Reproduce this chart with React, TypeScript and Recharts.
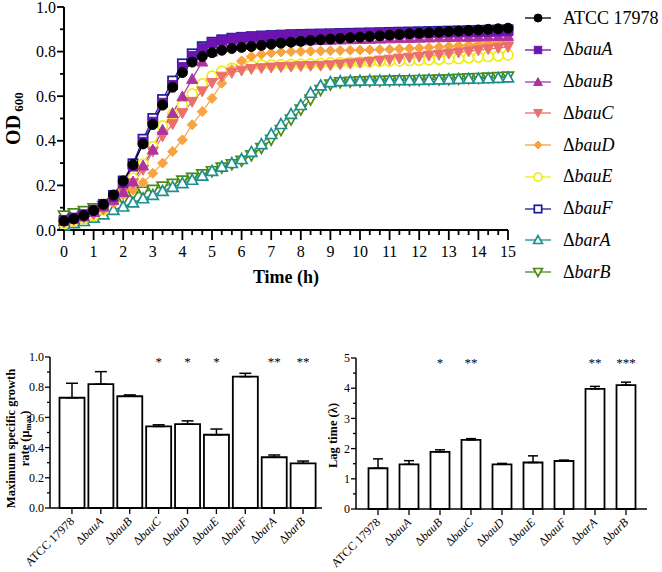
import {
  Bar,
  BarChart,
  ErrorBar,
  LabelList,
  Line,
  LineChart,
  XAxis,
  YAxis,
} from "recharts";

const SERIF = "'Liberation Serif', Tinos, 'Times New Roman', Times, 'DejaVu Serif', serif";

// sampling every 20 min
const TIME_H = [
  0, 0.33, 0.67, 1, 1.33, 1.67, 2, 2.33, 2.67, 3, 3.33, 3.67, 4, 4.33, 4.67, 5,
  5.33, 5.67, 6, 6.33, 6.67, 7, 7.33, 7.67, 8, 8.33, 8.67, 9, 9.33, 9.67, 10,
  10.33, 10.67, 11, 11.33, 11.67, 12, 12.33, 12.67, 13, 13.33, 13.67, 14, 14.33,
  14.67, 15,
];
const OD_TICKS = [0, 0.1, 0.2, 0.3, 0.4, 0.5, 0.6, 0.7, 0.8, 0.9, 1.0];

const ATCC = [
  0.04, 0.05, 0.065, 0.087, 0.115, 0.157,
  0.22, 0.293, 0.386, 0.473, 0.56, 0.64,
  0.706, 0.753, 0.778, 0.795, 0.806, 0.814,
  0.819, 0.823, 0.828, 0.833, 0.838, 0.842,
  0.846, 0.85, 0.853, 0.856, 0.859, 0.862,
  0.865, 0.868, 0.871, 0.874, 0.877, 0.88,
  0.882, 0.885, 0.887, 0.89, 0.892, 0.895,
  0.897, 0.9, 0.902, 0.905,
];
const BAU_A = [
  0.045, 0.055, 0.07, 0.09, 0.115, 0.15,
  0.21, 0.285, 0.395, 0.485, 0.57, 0.65,
  0.73, 0.78, 0.815, 0.837, 0.85, 0.858,
  0.863, 0.866, 0.869, 0.871, 0.873, 0.874,
  0.875, 0.876, 0.877, 0.878, 0.879, 0.88,
  0.881, 0.882, 0.882, 0.883, 0.884, 0.885,
  0.885, 0.886, 0.887, 0.887, 0.888, 0.889,
  0.889, 0.89, 0.891, 0.892,
];
const BAU_B = [
  0.04, 0.05, 0.06, 0.08, 0.105, 0.135,
  0.17, 0.217, 0.289, 0.36, 0.449, 0.524,
  0.599, 0.677, 0.755, 0.8, 0.82, 0.83,
  0.836, 0.84, 0.843, 0.845, 0.847, 0.849,
  0.85, 0.851, 0.852, 0.853, 0.854, 0.855,
  0.856, 0.857, 0.858, 0.859, 0.86, 0.861,
  0.862, 0.863, 0.864, 0.865, 0.866, 0.866,
  0.867, 0.868, 0.869, 0.87,
];
const BAU_C = [
  0.035, 0.045, 0.055, 0.07, 0.095, 0.13,
  0.172, 0.21, 0.27, 0.352, 0.42, 0.475,
  0.524, 0.575, 0.622, 0.66, 0.688, 0.705,
  0.715, 0.722, 0.726, 0.729, 0.731, 0.733,
  0.735, 0.736, 0.737, 0.739, 0.743, 0.747,
  0.751, 0.755, 0.76, 0.764, 0.769, 0.773,
  0.777, 0.782, 0.786, 0.791, 0.796, 0.801,
  0.806, 0.811, 0.816, 0.821,
];
const BAU_D = [
  0.035, 0.045, 0.055, 0.07, 0.09, 0.12,
  0.157, 0.18, 0.213, 0.254, 0.3, 0.352,
  0.404, 0.472, 0.531, 0.59, 0.658, 0.72,
  0.758, 0.778, 0.788, 0.794, 0.798, 0.8,
  0.801, 0.802, 0.803, 0.804, 0.805, 0.806,
  0.807, 0.808, 0.809, 0.81, 0.812, 0.814,
  0.816, 0.818, 0.821, 0.824, 0.827, 0.83,
  0.834, 0.838, 0.842, 0.846,
];
const BAU_E = [
  0.03, 0.04, 0.05, 0.065, 0.09, 0.13,
  0.19, 0.232, 0.296, 0.374, 0.467, 0.52,
  0.56, 0.61, 0.655, 0.69, 0.712, 0.726,
  0.734, 0.738, 0.74, 0.741, 0.742, 0.743,
  0.744, 0.745, 0.747, 0.749, 0.751, 0.752,
  0.753, 0.754, 0.756, 0.757, 0.758, 0.76,
  0.761, 0.763, 0.765, 0.767, 0.769, 0.772,
  0.775, 0.778, 0.781, 0.785,
];
const BAU_F = [
  0.04, 0.05, 0.065, 0.085, 0.115, 0.155,
  0.22, 0.297, 0.407, 0.5, 0.585, 0.668,
  0.745, 0.79, 0.822, 0.842, 0.853, 0.86,
  0.864, 0.867, 0.87, 0.872, 0.874, 0.876,
  0.877, 0.878, 0.879, 0.88, 0.881, 0.882,
  0.883, 0.884, 0.885, 0.886, 0.887, 0.888,
  0.889, 0.89, 0.891, 0.892, 0.893, 0.894,
  0.895, 0.896, 0.897, 0.898,
];
const BAR_A = [
  0.02, 0.03, 0.04, 0.055, 0.07, 0.09,
  0.105, 0.123, 0.142, 0.157, 0.175, 0.193,
  0.21, 0.225, 0.243, 0.265, 0.284, 0.3,
  0.318, 0.35, 0.385, 0.43, 0.475, 0.52,
  0.56, 0.615, 0.648, 0.663, 0.667, 0.668,
  0.669, 0.67, 0.67, 0.671, 0.672, 0.672,
  0.673, 0.674, 0.675, 0.676, 0.677, 0.678,
  0.679, 0.68, 0.682, 0.684,
];
const BAR_B = [
  0.065, 0.075, 0.085, 0.097, 0.108, 0.12,
  0.135, 0.16, 0.172, 0.18, 0.195, 0.207,
  0.222, 0.234, 0.25, 0.264, 0.28, 0.295,
  0.31, 0.335, 0.368, 0.405, 0.448, 0.495,
  0.54, 0.585, 0.628, 0.652, 0.662, 0.665,
  0.667, 0.668, 0.669, 0.67, 0.671, 0.672,
  0.673, 0.674, 0.675, 0.676, 0.678, 0.68,
  0.682, 0.684, 0.686, 0.688,
];

// bar panels
const STRAINS = [
  "ATCC 17978", "ΔbauA", "ΔbauB", "ΔbauC", "ΔbauD", "ΔbauE", "ΔbauF", "ΔbarA", "ΔbarB",
];
const MU_MAX = [0.73, 0.82, 0.74, 0.54, 0.555, 0.485, 0.87, 0.336, 0.296];
const MU_SD = [0.096, 0.083, 0.009, 0.011, 0.022, 0.038, 0.022, 0.015, 0.015];
const MU_SIG = ["", "", "", "*", "*", "*", "", "**", "**"];
const MU_TICKS = [0, 0.1, 0.2, 0.3, 0.4, 0.5, 0.6, 0.7, 0.8, 0.9, 1.0];

const LAG = [1.35, 1.48, 1.89, 2.29, 1.48, 1.54, 1.59, 3.98, 4.1];
const LAG_SD = [0.31, 0.12, 0.07, 0.04, 0.03, 0.22, 0.03, 0.08, 0.1];
const LAG_SIG = ["", "", "*", "**", "", "", "", "**", "***"];
const LAG_TICKS = [0, 0.5, 1, 1.5, 2, 2.5, 3, 3.5, 4, 4.5, 5];

type Shape = "circle" | "square" | "triUp" | "triDown" | "diamond";

interface Series {
  key: string;
  label: string;
  color: string;
  shape: Shape;
  filled: boolean;
  values: number[];
}

const SERIES: Series[] = [
  { key: "atcc", label: "ATCC 17978", color: "#000000", shape: "circle", filled: true, values: ATCC },
  { key: "bauA", label: "ΔbauA", color: "#6c14b0", shape: "square", filled: true, values: BAU_A },
  { key: "bauB", label: "ΔbauB", color: "#ad349f", shape: "triUp", filled: true, values: BAU_B },
  { key: "bauC", label: "ΔbauC", color: "#ec6f6c", shape: "triDown", filled: true, values: BAU_C },
  { key: "bauD", label: "ΔbauD", color: "#f8a341", shape: "diamond", filled: true, values: BAU_D },
  { key: "bauE", label: "ΔbauE", color: "#eeee10", shape: "circle", filled: false, values: BAU_E },
  { key: "bauF", label: "ΔbauF", color: "#1b1b98", shape: "square", filled: false, values: BAU_F },
  { key: "barA", label: "ΔbarA", color: "#1d8f8f", shape: "triUp", filled: false, values: BAR_A },
  { key: "barB", label: "ΔbarB", color: "#4b8a14", shape: "triDown", filled: false, values: BAR_B },
];

const growth = TIME_H.map((t, i) => {
  const row: Record<string, number> = { t };
  SERIES.forEach((s) => (row[s.key] = s.values[i]));
  return row;
});

const muData = STRAINS.map((strain, i) => ({
  strain,
  v: MU_MAX[i],
  err: [0, MU_SD[i]],
  sig: MU_SIG[i],
}));
const lagData = STRAINS.map((strain, i) => ({
  strain,
  v: LAG[i],
  err: [0, LAG_SD[i]],
  sig: LAG_SIG[i],
}));

function Marker({
  cx,
  cy,
  shape,
  color,
  filled,
  r,
}: {
  cx?: number;
  cy?: number;
  shape: Shape;
  color: string;
  filled: boolean;
  r: number;
}) {
  if (cx == null || cy == null) return null;
  const p = { fill: filled ? color : "#fff", stroke: color, strokeWidth: filled ? 1 : 1.7 };
  switch (shape) {
    case "circle":
      return <circle cx={cx} cy={cy} r={r} {...p} />;
    case "square": {
      const h = r * 0.92;
      return <rect x={cx - h} y={cy - h} width={h * 2} height={h * 2} {...p} />;
    }
    case "diamond":
      return (
        <polygon
          points={`${cx},${cy - r} ${cx + r},${cy} ${cx},${cy + r} ${cx - r},${cy}`}
          {...p}
        />
      );
    case "triUp": {
      const h = r * 1.1;
      return (
        <polygon
          points={`${cx},${cy - h} ${cx + h},${cy + h * 0.8} ${cx - h},${cy + h * 0.8}`}
          {...p}
        />
      );
    }
    default: {
      const h = r * 1.1;
      return (
        <polygon
          points={`${cx},${cy + h} ${cx + h},${cy - h * 0.8} ${cx - h},${cy - h * 0.8}`}
          {...p}
        />
      );
    }
  }
}

// Δ upright, gene name italic
const SvgStrain = ({ name }: { name: string }) =>
  name.startsWith("Δ") ? (
    <>
      <tspan>Δ</tspan>
      <tspan fontStyle="italic">{name.slice(1)}</tspan>
    </>
  ) : (
    <>{name}</>
  );

const HtmlStrain = ({ name }: { name: string }) =>
  name.startsWith("Δ") ? (
    <>
      Δ<i>{name.slice(1)}</i>
    </>
  ) : (
    <>{name}</>
  );

const odYTick = (p: any) => {
  const v = p.payload.value;
  const major = Math.round(v * 10) % 2 === 0;
  return (
    <g>
      <line x1={p.x - (major ? 7 : 4)} x2={p.x} y1={p.y} y2={p.y} stroke="#000" strokeWidth={1.8} />
      {major && (
        <text
          x={p.x - 8}
          y={p.y}
          dy="0.35em"
          textAnchor="end"
          fontSize={16}
          fontFamily={SERIF}
          fill="#000"
        >
          {v.toFixed(1)}
        </text>
      )}
    </g>
  );
};

const timeTick = (p: any) => {
  const v = p.payload.value;
  const major = Number.isInteger(v);
  return (
    <g>
      <line x1={p.x} x2={p.x} y1={p.y} y2={p.y + (major ? 10 : 5)} stroke="#000" strokeWidth={1.8} />
      {major && (
        <text x={p.x} y={p.y + 27} textAnchor="middle" fontSize={16} fontFamily={SERIF} fill="#000">
          {v}
        </text>
      )}
    </g>
  );
};

const barYTick = (isMajor: (v: number) => boolean, fmt: (v: number) => string) => (p: any) => {
  const v = p.payload.value;
  const major = isMajor(v);
  return (
    <g>
      <line x1={p.x - (major ? 5 : 3)} x2={p.x} y1={p.y} y2={p.y} stroke="#000" strokeWidth={1.3} />
      {major && (
        <text
          x={p.x - 6}
          y={p.y}
          dy="0.35em"
          textAnchor="end"
          fontSize={12}
          fontFamily={SERIF}
          fill="#000"
        >
          {fmt(v)}
        </text>
      )}
    </g>
  );
};

const strainTick = (p: any) => (
  <g>
    <line x1={p.x} x2={p.x} y1={p.y} y2={p.y + 6} stroke="#000" strokeWidth={1.3} />
    <text
      transform={`translate(${p.x + 3},${p.y + 14}) rotate(-45)`}
      textAnchor="end"
      fontSize={12}
      fontFamily={SERIF}
      fill="#000"
    >
      <SvgStrain name={p.payload.value} />
    </text>
  </g>
);

// significance stars sit at the top of the value axis, above each bar
const sigLabel = (values: number[], yMax: number) => (p: any) => {
  const vb = p.viewBox ?? p;
  if (!p.value || vb == null) return null;
  const base = vb.y + vb.height;
  const top = base - (yMax * vb.height) / values[p.index];
  return (
    <text
      x={vb.x + vb.width / 2}
      y={top + 9}
      textAnchor="middle"
      fontSize={13}
      fontFamily={SERIF}
      fill="#000"
      stroke="none"
    >
      {p.value}
    </text>
  );
};

export default function App() {
  return (
    <div
      style={{
        position: "absolute",
        left: 0,
        top: 0,
        width: 662,
        height: 572,
        background: "#fff",
        fontFamily: SERIF,
      }}
    >
      <div style={{ position: "absolute", left: 0, top: 0 }}>
        <LineChart
          width={530}
          height={300}
          data={growth}
          margin={{ top: 7, right: 22, bottom: 10, left: 0 }}
        >
          <XAxis
            dataKey="t"
            type="number"
            domain={[0, 15]}
            ticks={TIME_H}
            interval={0}
            tickSize={0}
            tickMargin={0}
            tickLine={false}
            tick={timeTick}
            axisLine={{ stroke: "#000", strokeWidth: 2 }}
            height={60}
            label={(p: any) => {
              const vb = p.viewBox ?? { x: 64, y: 230, width: 444, height: 60 };
              return (
                <text
                  x={vb.x + vb.width / 2}
                  y={vb.y + 53}
                  textAnchor="middle"
                  fontSize={18}
                  fontWeight="bold"
                  fontFamily={SERIF}
                  fill="#000"
                >
                  Time (h)
                </text>
              );
            }}
          />
          <YAxis
            type="number"
            domain={[0, 1]}
            ticks={OD_TICKS}
            interval={0}
            tickSize={0}
            tickMargin={0}
            tickLine={false}
            tick={odYTick}
            axisLine={{ stroke: "#000", strokeWidth: 2 }}
            width={64}
            label={(p: any) => {
              const vb = p.viewBox ?? { x: 0, y: 7, width: 64, height: 223 };
              return (
                <text
                  transform={`translate(${vb.x + 20},${vb.y + vb.height / 2}) rotate(-90)`}
                  textAnchor="middle"
                  fontSize={20}
                  fontWeight="bold"
                  fontFamily={SERIF}
                  fill="#000"
                >
                  OD
                  <tspan fontSize={13} dy={3}>
                    {" 600"}
                  </tspan>
                </text>
              );
            }}
          />
          {[...SERIES].reverse().map((s) => (
            <Line
              key={s.key}
              dataKey={s.key}
              type="linear"
              stroke={s.color}
              strokeWidth={1.2}
              activeDot={false}
              isAnimationActive={false}
              dot={(p: any) => (
                <Marker
                  key={`${s.key}-${p.index}`}
                  cx={p.cx}
                  cy={p.cy}
                  shape={s.shape}
                  color={s.color}
                  filled={s.filled}
                  r={5}
                />
              )}
            />
          ))}
        </LineChart>
      </div>

      {/* legend */}
      {SERIES.map((s, i) => (
        <div
          key={s.key}
          style={{
            position: "absolute",
            left: 524,
            top: 18 + i * 31.75 - 12,
            height: 24,
            display: "flex",
            alignItems: "center",
            whiteSpace: "nowrap",
            fontSize: 18,
            fontFamily: SERIF,
          }}
        >
          <svg width={28} height={14}>
            <line x1={1} x2={27} y1={7} y2={7} stroke={s.color} strokeWidth={1.3} />
            <Marker cx={14} cy={7} shape={s.shape} color={s.color} filled={s.filled} r={4} />
          </svg>
          <span style={{ marginLeft: 11 }}>
            <HtmlStrain name={s.label} />
          </span>
        </div>
      ))}

      <div style={{ position: "absolute", left: 0, top: 340 }}>
        <BarChart
          width={324}
          height={232}
          data={muData}
          margin={{ top: 17, right: 2, bottom: 0, left: 0 }}
        >
          <XAxis
            dataKey="strain"
            height={64}
            interval={0}
            tickSize={0}
            tickMargin={0}
            tickLine={false}
            tick={strainTick}
            padding={{ left: 7.5, right: 4.5 }}
            axisLine={{ stroke: "#000", strokeWidth: 1.5 }}
          />
          <YAxis
            type="number"
            domain={[0, 1]}
            ticks={MU_TICKS}
            interval={0}
            tickSize={0}
            tickMargin={0}
            tickLine={false}
            tick={barYTick((v) => Math.round(v * 10) % 2 === 0, (v) => v.toFixed(1))}
            axisLine={{ stroke: "#000", strokeWidth: 1.5 }}
            width={50}
            label={(p: any) => {
              const vb = p.viewBox ?? { x: 0, y: 17, width: 50, height: 151 };
              const cy = vb.y + vb.height / 2 + 6;
              return (
                <text
                  transform={`translate(${vb.x + 15},${cy}) rotate(-90)`}
                  textAnchor="middle"
                  fontSize={12.5}
                  fontWeight="bold"
                  fontFamily={SERIF}
                  fill="#000"
                >
                  <tspan x={0} dy={0}>
                    Maximum specific growth
                  </tspan>
                  <tspan x={0} dy={14}>
                    rate (μ
                  </tspan>
                  <tspan fontSize={8.5} dy={2}>
                    max
                  </tspan>
                  <tspan dy={-2}>)</tspan>
                </text>
              );
            }}
          />
          <Bar
            dataKey="v"
            fill="#fff"
            stroke="#000"
            strokeWidth={1.8}
            barSize={25}
            isAnimationActive={false}
          >
            <ErrorBar dataKey="err" width={6} stroke="#000" strokeWidth={1.5} direction="y" />
            <LabelList dataKey="sig" content={sigLabel(MU_MAX, 1)} />
          </Bar>
        </BarChart>
      </div>

      <div style={{ position: "absolute", left: 322, top: 340 }}>
        <BarChart
          width={340}
          height={232}
          data={lagData}
          margin={{ top: 18, right: 15, bottom: 0, left: 0 }}
        >
          <XAxis
            dataKey="strain"
            height={63}
            interval={0}
            tickSize={0}
            tickMargin={0}
            tickLine={false}
            tick={strainTick}
            padding={{ left: 6.5, right: 5.5 }}
            axisLine={{ stroke: "#000", strokeWidth: 1.5 }}
          />
          <YAxis
            type="number"
            domain={[0, 5]}
            ticks={LAG_TICKS}
            interval={0}
            tickSize={0}
            tickMargin={0}
            tickLine={false}
            tick={barYTick((v) => Number.isInteger(v), (v) => String(v))}
            axisLine={{ stroke: "#000", strokeWidth: 1.5 }}
            width={34}
            label={(p: any) => {
              const vb = p.viewBox ?? { x: 0, y: 18, width: 34, height: 151 };
              return (
                <text
                  transform={`translate(${vb.x + 15},${vb.y + vb.height / 2 + 2}) rotate(-90)`}
                  textAnchor="middle"
                  fontSize={12.5}
                  fontWeight="bold"
                  fontFamily={SERIF}
                  fill="#000"
                >
                  Lag time (λ)
                </text>
              );
            }}
          />
          <Bar
            dataKey="v"
            fill="#fff"
            stroke="#000"
            strokeWidth={1.8}
            barSize={19}
            isAnimationActive={false}
          >
            <ErrorBar dataKey="err" width={5} stroke="#000" strokeWidth={1.5} direction="y" />
            <LabelList dataKey="sig" content={sigLabel(LAG, 5)} />
          </Bar>
        </BarChart>
      </div>
    </div>
  );
}
